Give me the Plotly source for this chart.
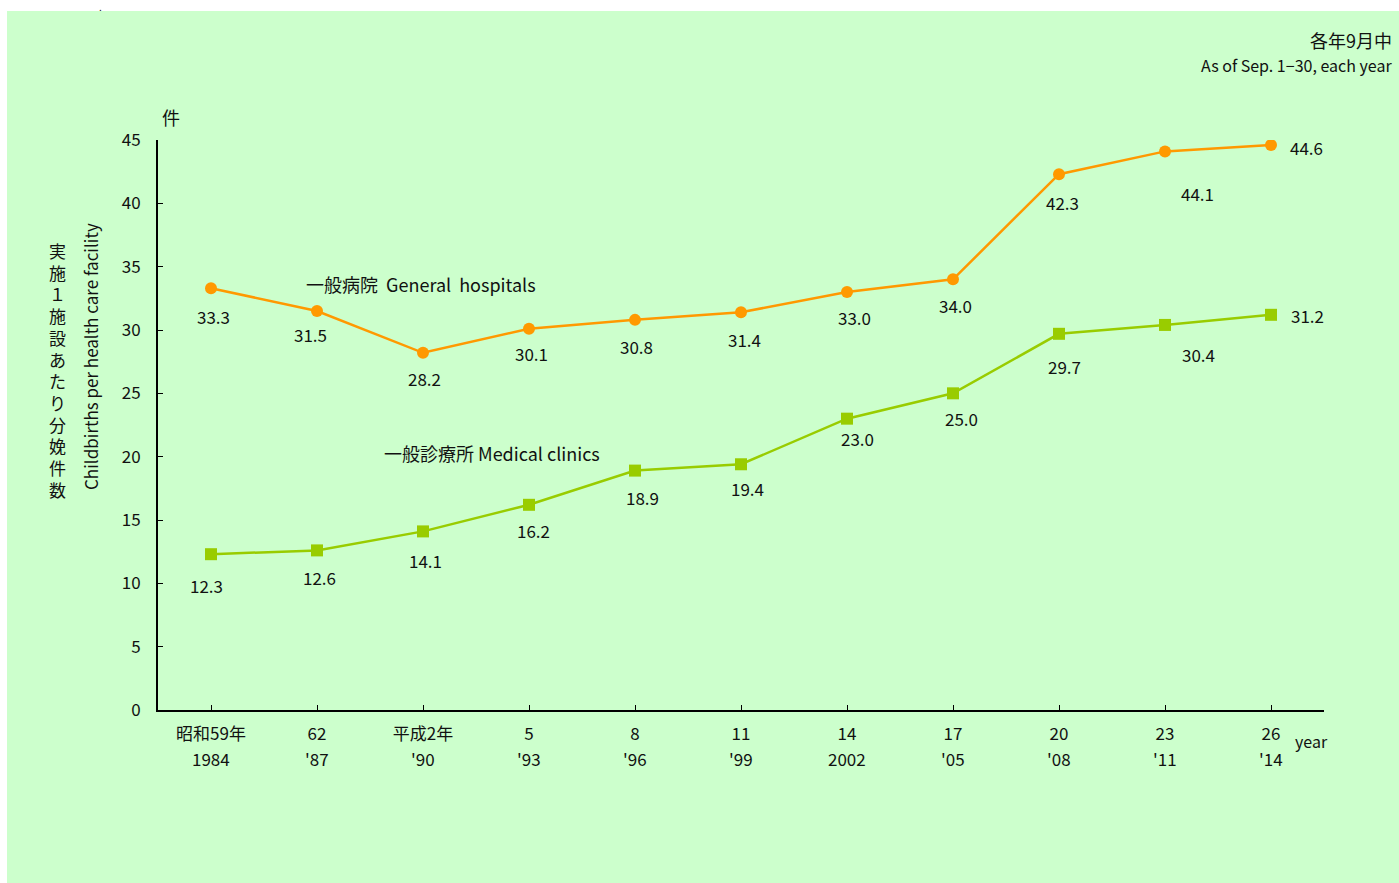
import plotly.graph_objects as go

years_jp = ["昭和59年", "62", "平成2年", "5", "8", "11", "14", "17", "20", "23", "26"]
years_ad = ["1984", "'87", "'90", "'93", "'96", "'99", "2002", "'05", "'08", "'11", "'14"]
hospitals = [33.3, 31.5, 28.2, 30.1, 30.8, 31.4, 33.0, 34.0, 42.3, 44.1, 44.6]
clinics = [12.3, 12.6, 14.1, 16.2, 18.9, 19.4, 23.0, 25.0, 29.7, 30.4, 31.2]
y_ticks = [0, 5, 10, 15, 20, 25, 30, 35, 40, 45]
y_title_jp = "実施１施設あたり分娩件数"

FONT = "Noto Sans CJK JP"
ORANGE = "#FF9900"
GREEN = "#99CC00"
BG = "#CCFFCC"
TXT = "#111111"

x = list(range(len(years_jp)))

# label offsets (pixels) for data labels
h_off = [(2, -28), (-7, -23), (1, -26), (2, -25), (1, -27), (3, -27), (7, -25), (2, -26), (3, -28), (32, -42), (35, -2)]
c_off = [(-5, -31), (2, -27), (2, -29), (4, -26), (7, -27), (6, -24), (10, -20), (8, -25), (5, -33), (33, -30), (36, -1)]

fig = go.Figure()
fig.add_trace(go.Scatter(x=x, y=hospitals, mode="lines+markers",
                         line=dict(color=ORANGE, width=2.5),
                         marker=dict(symbol="circle", size=12, color=ORANGE),
                         hoverinfo="skip", showlegend=False))
fig.add_trace(go.Scatter(x=x, y=clinics, mode="lines+markers",
                         line=dict(color=GREEN, width=2.5),
                         marker=dict(symbol="square", size=12, color=GREEN),
                         hoverinfo="skip", showlegend=False))

anns = []
for xi, v, (dx, dy) in zip(x, hospitals, h_off):
    anns.append(dict(x=xi, y=v, text=f"{v:.1f}", showarrow=False, xshift=dx, yshift=dy,
                     xanchor="center", yanchor="middle",
                     font=dict(size=17, color=TXT, family=FONT)))
for xi, v, (dx, dy) in zip(x, clinics, c_off):
    anns.append(dict(x=xi, y=v, text=f"{v:.1f}", showarrow=False, xshift=dx, yshift=dy,
                     xanchor="center", yanchor="middle",
                     font=dict(size=17, color=TXT, family=FONT)))

def pxx(px):
    return (px - 158) / 1166

def pxy(py):
    return (710 - py) / 570

def txt(px, py, text, size, xanchor="center", **kw):
    return dict(x=pxx(px), y=pxy(py), text=text, showarrow=False, xref="paper", yref="paper",
                xanchor=xanchor, yanchor="middle",
                font=dict(size=size, color=TXT, family=FONT), **kw)

# second line of the category labels (western years)
for xi, lab in zip(x, years_ad):
    anns.append(dict(x=xi, y=pxy(758), xref="x", yref="paper", text=lab, showarrow=False,
                     xanchor="center", yanchor="middle",
                     font=dict(size=17, color=TXT, family=FONT)))

# vertical Japanese axis title, one character per line
for i, ch in enumerate(y_title_jp):
    anns.append(txt(57, 250 + i * 21.7, ch, 17, height=20))

anns += [
    txt(171, 117, "件", 18),
    txt(90, 357, "Childbirths per health care facility", 17, textangle=-90),
    txt(304, 284, "一般病院  General  hospitals", 18, xanchor="left"),
    txt(382, 453, "一般診療所 Medical clinics", 18, xanchor="left"),
    txt(1394, 40, "各年9月中", 18, xanchor="right"),
    txt(1394, 65, "As of Sep. 1−30, each year", 16, xanchor="right"),
    txt(1293, 741, "year", 16, xanchor="left"),
    txt(100, 7, ".", 10),
]

fig.update_layout(
    width=1399, height=883,
    margin=dict(l=158, r=75, t=140, b=173),
    paper_bgcolor="white",
    plot_bgcolor=BG,
    font=dict(family=FONT, size=16, color=TXT),
    annotations=anns,
    shapes=[dict(type="rect", xref="paper", yref="paper", layer="below",
                 x0=pxx(7), x1=pxx(1399), y0=pxy(883), y1=pxy(11),
                 fillcolor=BG, line=dict(width=0))],
    xaxis=dict(range=[-0.5, 10.5], tickmode="array", tickvals=x, ticktext=years_jp,
               showgrid=False, zeroline=False, showline=True, linecolor="#000000", linewidth=2,
               ticks="inside", ticklen=5, tickcolor="#000000", ticklabelstandoff=8,
               tickfont=dict(size=17, family=FONT, color=TXT)),
    yaxis=dict(range=[0, 45], tickmode="array", tickvals=y_ticks,
               showgrid=False, zeroline=False, showline=True, linecolor="#000000", linewidth=2,
               ticks="inside", ticklen=5, tickcolor="#000000", ticklabelstandoff=12,
               tickfont=dict(size=17, family=FONT, color=TXT)),
)

fig.write_html("out.html", config={"displayModeBar": False},
               post_script="document.body.style.margin='0';document.body.style.overflow='hidden';")
